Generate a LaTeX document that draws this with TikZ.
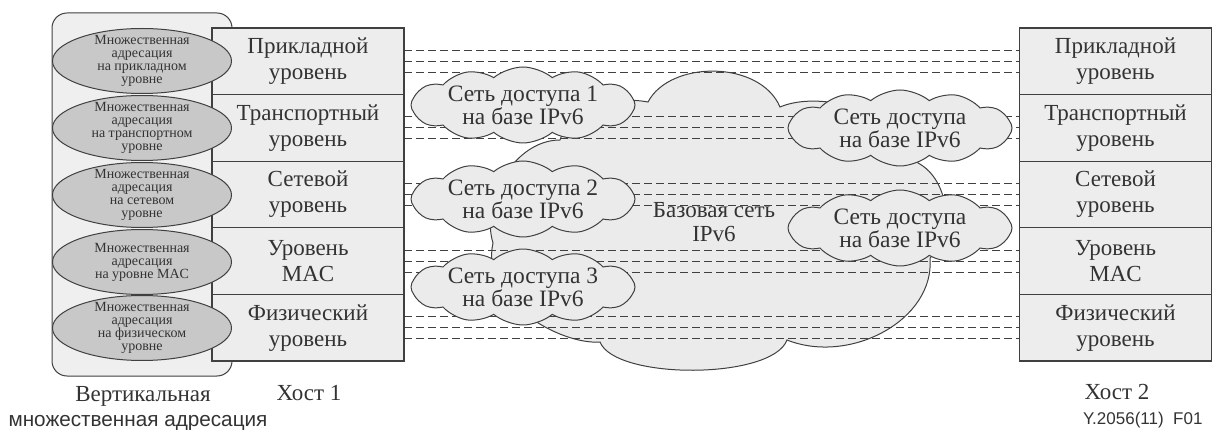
\documentclass[tikz,border=0pt]{standalone}
\usepackage{fontspec}
\setmainfont{Liberation Serif}
\setsansfont{Liberation Sans}
\usetikzlibrary{shapes.symbols,shapes.geometric}
\definecolor{linec}{HTML}{404040}
\definecolor{textc}{HTML}{333333}
\definecolor{boxfill}{HTML}{EDEDED}
\definecolor{ellfill}{HTML}{C8C8C8}
\definecolor{panelfill}{HTML}{EFEFEF}
\definecolor{cloudfill}{HTML}{EBEBEB}
\begin{document}
\begin{tikzpicture}[x=1pt,y=-1pt,
  layerbox/.style={draw=linec, fill=boxfill, line width=1.1pt, minimum width=192pt, minimum height=66.6pt, inner sep=0pt, outer sep=0pt, align=center, font=\fontsize{23}{26}\selectfont, text=textc},
  ellshape/.style={ellipse, draw=linec, fill=ellfill, line width=1pt, minimum width=179pt, minimum height=65pt, inner sep=0pt},
  elltext/.style={align=center, font=\fontsize{14}{13}\selectfont, text=textc},
  acloud/.style={cloud, cloud puffs=12, cloud puff arc=80, draw=linec, fill=cloudfill, line width=1pt, minimum width=224pt, minimum height=76pt, inner sep=0pt},
  ctext/.style={align=center, font=\fontsize{23.5}{19.5}\selectfont, text=textc},
  coretext/.style={align=center, font=\fontsize{23}{24}\selectfont, text=textc, fill=cloudfill, inner sep=0pt},
  dashline/.style={draw=linec, line width=1.1pt, dash pattern=on 7.5pt off 4.5pt},
  lbl/.style={font=\fontsize{23}{24}\selectfont, text=textc, anchor=base}
]
\useasboundingbox (0,0) rectangle (1215,430);
% panel
\draw[draw=linec, fill=panelfill, line width=1pt, rounded corners=15pt] (52,13) rectangle (232,376);
% host 1
\node[layerbox] (a1) at (308,61.3) {Прикладной\\уровень};
\node[layerbox] (a2) at (308,127.9) {Транспортный\\уровень};
\node[layerbox] (a3) at (308,194.5) {Сетевой\\уровень};
\node[layerbox] (a4) at (308,261.1) {Уровень\\MAC};
\node[layerbox] (a5) at (308,327.7) {Физический\\уровень};
% host 2
\node[layerbox] (b1) at (1115.5,61.3) {Прикладной\\уровень};
\node[layerbox] (b2) at (1115.5,127.9) {Транспортный\\уровень};
\node[layerbox] (b3) at (1115.5,194.5) {Сетевой\\уровень};
\node[layerbox] (b4) at (1115.5,261.1) {Уровень\\MAC};
\node[layerbox] (b5) at (1115.5,327.7) {Физический\\уровень};
% ellipses
\node[ellshape] (e1) at (142,61) {};
\node[ellshape] (e2) at (142,128) {};
\node[ellshape] (e3) at (142,195) {};
\node[ellshape] (e4) at (142,262) {};
\node[ellshape] (e5) at (142,328) {};
\node[elltext] (e1t) at (e1) {Множественная\\адресация\\на прикладном\\уровне};
\node[elltext] (e2t) at (e2) {Множественная\\адресация\\на транспортном\\уровне};
\node[elltext] (e3t) at (e3) {Множественная\\адресация\\на сетевом\\уровне};
\node[elltext] (e4t) at (e4) {Множественная\\адресация\\на уровне MAC};
\node[elltext] (e5t) at (e5) {Множественная\\адресация\\на физическом\\уровне};
% core cloud
\path[draw=linec, fill=cloudfill, line width=1pt]
  (600,342) .. controls (615,380) and (772,380) .. (787,340)
  .. controls (850,365) and (935,320) .. (930,258)
  .. controls (955,235) and (950,180) .. (918,163)
  .. controls (900,110) and (820,90) .. (780,107)
  .. controls (760,60) and (670,60) .. (648,102)
  .. controls (610,95) and (570,110) .. (560,140)
  .. controls (515,140) and (480,200) .. (493,243)
  .. controls (480,300) and (560,345) .. (600,342) -- cycle;
\node[coretext] (core) at (714,222) {Базовая сеть\\IPv6};
% dashed lines
\foreach \i in {1,...,5}{
  \foreach \o in {11,0,-11}{
    \draw[dashline] ([yshift=\o pt]a\i.east) -- ([yshift=\o pt]b\i.west);
  }
}
% access clouds
\node[acloud] (n1) at (523,105) {};
\node[acloud] (n2) at (523,199) {};
\node[acloud] (n3) at (523,287) {};
\node[acloud] (n4) at (900,128) {};
\node[acloud] (n5) at (900,228) {};
\node[ctext] (n1t) at (n1) {Сеть доступа 1\\на базе IPv6};
\node[ctext] (n2t) at (n2) {Сеть доступа 2\\на базе IPv6};
\node[ctext] (n3t) at (n3) {Сеть доступа 3\\на базе IPv6};
\node[ctext] (n4t) at (n4) {Сеть доступа\\на базе IPv6};
\node[ctext] (n5t) at (n5) {Сеть доступа\\на базе IPv6};
% labels
\node[lbl] (v1) at (143,401) {Вертикальная};
\node[lbl, font=\sffamily\fontsize{20.7}{22}\selectfont] (v2) at (138,426) {множественная адресация};
\node[lbl] (h1) at (309,400) {Хост 1};
\node[lbl] (h2) at (1117,399) {Хост 2};
\node[anchor=base east, font=\sffamily\fontsize{17}{18}\selectfont, text=textc] (fig) at (1206,424) {Y.2056(11)\ \ F01};
\end{tikzpicture}
\end{document}
